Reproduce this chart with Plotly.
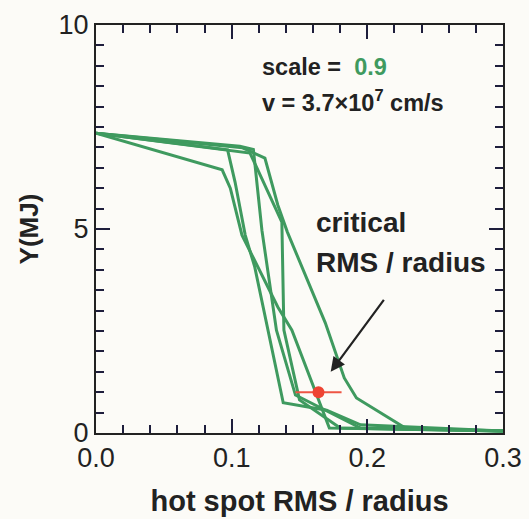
import plotly.graph_objects as go

GREEN = "#3f9a5f"
DARK = "#222222"
TICK = "#1e1e3c"
FONT = "Liberation Sans"
BG = "#fcfbf7"

curve1_x = [0, 0.108, 0.1245, 0.134, 0.141, 0.169, 0.183, 0.192, 0.228, 0.3]
curve1_y = [7.35, 6.99, 6.74, 5.59, 4.93, 2.70, 1.35, 0.86, 0.12, 0.05]
curve2_x = [0, 0.1135, 0.118, 0.137, 0.1385, 0.150, 0.180, 0.3]
curve2_y = [7.35, 6.86, 6.54, 5.17, 2.52, 0.81, 0.12, 0.05]
curve3_x = [0, 0.097, 0.1025, 0.110, 0.117, 0.127, 0.138, 0.170, 0.195, 0.3]
curve3_y = [7.35, 6.94, 6.15, 4.85, 4.07, 2.52, 0.74, 0.56, 0.20, 0.05]
curve4_x = [0, 0.093, 0.099, 0.1076, 0.134, 0.1444, 0.172, 0.3]
curve4_y = [7.35, 6.45, 6.00, 4.85, 3.09, 2.52, 0.12, 0.05]
curve5_x = [0, 0.106, 0.116, 0.1223, 0.133, 0.147, 0.195, 0.3]
curve5_y = [7.35, 7.03, 6.95, 4.97, 2.52, 0.93, 0.12, 0.05]

curves = [(curve1_x, curve1_y), (curve2_x, curve2_y), (curve3_x, curve3_y),
          (curve4_x, curve4_y), (curve5_x, curve5_y)]

crit_x = [0.164]
crit_y = [1.0]
crit_err = [0.017]

fig = go.Figure()
for cx, cy in curves:
    fig.add_trace(go.Scatter(x=cx, y=cy, mode="lines",
                             line=dict(color=GREEN, width=3), showlegend=False))

fig.add_trace(go.Scatter(x=crit_x, y=crit_y, mode="markers",
                         marker=dict(color="#ee4433", size=12),
                         error_x=dict(type="data", array=crit_err, color="#ee5544",
                                      thickness=2, width=0),
                         showlegend=False))

fig.add_annotation(x=0.173, y=1.5, ax=0.213, ay=3.3, xref="x", yref="y",
                   axref="x", ayref="y", showarrow=True, arrowhead=2,
                   arrowsize=1.3, arrowwidth=2.2, arrowcolor=DARK, text="")

fig.add_annotation(x=0.161, y=5.17, xref="x", yref="y", xanchor="left", yanchor="middle",
                   text="<b>critical</b>", showarrow=False,
                   font=dict(family=FONT, size=28, color=DARK))
fig.add_annotation(x=0.161, y=4.19, xref="x", yref="y", xanchor="left", yanchor="middle",
                   text="<b>RMS / radius</b>", showarrow=False,
                   font=dict(family=FONT, size=28, color=DARK))

fig.add_annotation(x=0.121, y=8.97, xref="x", yref="y", xanchor="left", yanchor="middle",
                   text="<b>scale =  <span style='color:%s'>0.9</span></b>" % GREEN,
                   showarrow=False,
                   font=dict(family=FONT, size=23.5, color=DARK))
fig.add_annotation(x=0.121, y=8.14, xref="x", yref="y", xanchor="left", yanchor="middle",
                   text="<b>v = 3.7×10<sup>7</sup> cm/s</b>", showarrow=False,
                   font=dict(family=FONT, size=23.5, color=DARK))

fig.update_layout(
    width=529, height=519, margin=dict(l=96, r=26, t=25, b=86),
    paper_bgcolor=BG, plot_bgcolor=BG,
    xaxis=dict(range=[0, 0.3], dtick=0.1, tick0=0, tickformat=".1f",
               ticks="inside", ticklen=14, tickwidth=2, tickcolor=TICK,
               showline=True, linecolor=DARK, linewidth=2, mirror="allticks",
               showgrid=False, zeroline=False, automargin=False,
               tickfont=dict(family=FONT, size=27, color=DARK),
               minor=dict(dtick=0.02, tick0=0, ticks="inside", ticklen=8,
                          tickwidth=2, tickcolor=TICK),
               title=dict(text="<b>hot spot RMS / radius</b>", standoff=18,
                          font=dict(family=FONT, size=29, color=DARK))),
    yaxis=dict(range=[0, 10], dtick=5, tick0=0,
               ticks="inside", ticklen=14, tickwidth=2, tickcolor=TICK,
               showline=True, linecolor=DARK, linewidth=2, mirror="allticks",
               showgrid=False, zeroline=False, automargin=False,
               tickfont=dict(family=FONT, size=27, color=DARK),
               minor=dict(dtick=0.5, tick0=0, ticks="inside", ticklen=8,
                          tickwidth=2, tickcolor=TICK),
               title=dict(text="<b>Y(MJ)</b>", standoff=12,
                          font=dict(family=FONT, size=26, color=DARK))),
)

fig.write_html("out.html", config={"displayModeBar": False},
               post_script="document.body.style.margin='0';"
                           "document.body.style.background='%s';" % BG)
